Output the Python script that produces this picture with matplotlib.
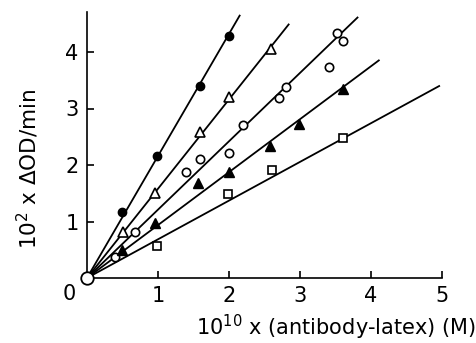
import matplotlib
matplotlib.use("Agg")
import matplotlib.pyplot as plt
import numpy as np

# Data
fc_x = [0.50, 0.99, 1.59, 2.00]
fc_y = [1.16, 2.16, 3.40, 4.28]
ot_x = [0.51, 0.96, 1.59, 2.00, 2.59]
ot_y = [0.82, 1.51, 2.59, 3.21, 4.05]
oc_x = [0.39, 0.67, 1.40, 1.59, 2.00, 2.20, 2.70, 2.80, 3.41, 3.52, 3.60]
oc_y = [0.38, 0.82, 1.88, 2.10, 2.21, 2.71, 3.19, 3.38, 3.73, 4.33, 4.19]
ft_x = [0.50, 0.96, 1.56, 2.00, 2.58, 2.99, 3.61]
ft_y = [0.50, 0.97, 1.68, 1.88, 2.34, 2.73, 3.35]
sq_x = [0.99, 1.99, 2.60, 3.60]
sq_y = [0.57, 1.49, 1.91, 2.47]

# fitted lines through origin: slope and end x
line_slopes = [2.16, 1.58, 1.21, 0.937, 0.685]
line_ends = [2.15, 2.84, 3.81, 4.11, 4.96]

xticks = [1, 2, 3, 4, 5]
yticks = [1, 2, 3, 4]

fig = plt.figure(figsize=(4.77, 3.43), dpi=100)
ax = fig.add_axes([87/477, (343-278)/343, (442-87)/477, (278-12)/343])
ax.set_xlim(0, 5)
ax.set_ylim(0, 266/56.5)

lw = 1.3
for s, e in zip(line_slopes, line_ends):
    xs = np.array([0, e])
    ax.plot(xs, s*xs, color='black', lw=lw, zorder=2)

ms = 6
ax.plot(fc_x, fc_y, 'o', ms=ms, mfc='black', mec='black', zorder=3)
ax.plot(ot_x, ot_y, '^', ms=ms+1.5, mfc='white', mec='black', mew=1.2, zorder=3)
ax.plot(oc_x, oc_y, 'o', ms=ms, mfc='white', mec='black', mew=1.2, zorder=3)
ax.plot(ft_x, ft_y, '^', ms=ms+1.5, mfc='black', mec='black', zorder=3)
ax.plot(sq_x, sq_y, 's', ms=ms, mfc='white', mec='black', mew=1.2, zorder=3)
ax.plot([0], [0], 'o', ms=9, mfc='white', mec='black', mew=1.3, zorder=4, clip_on=False)

for sp in ['top', 'right']:
    ax.spines[sp].set_visible(False)
for sp in ['left', 'bottom']:
    ax.spines[sp].set_linewidth(1.2)

ax.set_xticks(xticks)
ax.set_yticks(yticks)
ax.tick_params(direction='in', length=5, width=1.2, labelsize=15, pad=6)
ax.text(-0.15, -0.1, '0', fontsize=15, ha='right', va='top', transform=ax.transData)

fig.text(476/477, (343-327)/343, r'$10^{10}$' + ' x (antibody-latex) (M)', fontsize=15,
         ha='right', va='center')
fig.text(28/477, (343-169)/343, r'$10^{2}$' + ' x ΔOD/min', fontsize=15.5, rotation=90,
         ha='center', va='center')

fig.savefig('out.png', dpi=100)
